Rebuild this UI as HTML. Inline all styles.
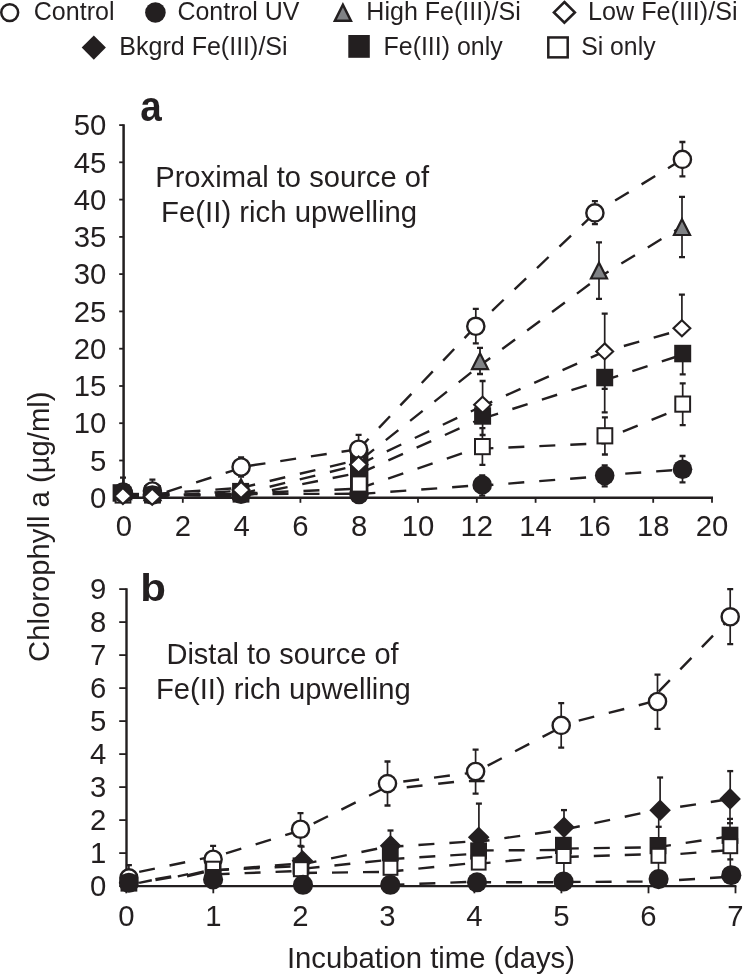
<!DOCTYPE html>
<html><head><meta charset="utf-8"><title>Chlorophyll a incubation</title>
<style>html,body{margin:0;padding:0;background:#fff}svg{display:block}text{font-family:"Liberation Sans",Arial,Helvetica,sans-serif;fill:#231f20}</style></head><body>
<svg width="743" height="975" viewBox="0 0 743 975">
<rect width="743" height="975" fill="#fff"/>
<circle cx="9.7" cy="12.6" r="8.45" fill="#fff" stroke="#231f20" stroke-width="2.50"/>
<text x="33.77" y="20.10" font-size="25.50" textLength="80.70" lengthAdjust="spacingAndGlyphs">Control</text>
<circle cx="155.4" cy="12.5" r="10.30" fill="#231f20"/>
<text x="177.48" y="20.10" font-size="25.50" textLength="122.03" lengthAdjust="spacingAndGlyphs">Control UV</text>
<path d="M342.9 4.8L350.9 20.8L334.9 20.8Z" fill="#808285" stroke="#231f20" stroke-width="2.5"/>
<text x="366.34" y="20.10" font-size="25.50" textLength="154.38" lengthAdjust="spacingAndGlyphs">High Fe(III)/Si</text>
<path d="M564.40 2.04L574.86 12.40L564.40 22.76L553.94 12.40Z" fill="#fff" stroke="#231f20" stroke-width="2.60"/>
<text x="588.03" y="20.10" font-size="25.50" textLength="149.58" lengthAdjust="spacingAndGlyphs">Low Fe(III)/Si</text>
<path d="M93.80 35.50L105.90 47.60L93.80 59.70L81.70 47.60Z" fill="#231f20"/>
<text x="119.34" y="54.80" font-size="25.50" textLength="168.25" lengthAdjust="spacingAndGlyphs">Bkgrd Fe(III)/Si</text>
<rect x="348.3" y="35.0" width="21.5" height="22.8" fill="#231f20"/>
<text x="383.54" y="54.80" font-size="25.50" textLength="119.17" lengthAdjust="spacingAndGlyphs">Fe(III) only</text>
<rect x="548.30" y="37.45" width="19.40" height="19.90" fill="#fff" stroke="#231f20" stroke-width="2.50"/>
<text x="581.19" y="54.80" font-size="25.50" textLength="74.35" lengthAdjust="spacingAndGlyphs">Si only</text>
<path d="M123.6 124.3V497.8H713.0" fill="none" stroke="#231f20" stroke-width="2.5"/>
<line x1="119.2" x2="123.6" y1="497.8" y2="497.8" stroke="#231f20" stroke-width="1.8"/>
<text x="106.4" y="508.0" font-size="29.3" text-anchor="end">0</text>
<line x1="119.2" x2="123.6" y1="460.5" y2="460.5" stroke="#231f20" stroke-width="1.8"/>
<text x="106.4" y="470.7" font-size="29.3" text-anchor="end">5</text>
<line x1="119.2" x2="123.6" y1="423.2" y2="423.2" stroke="#231f20" stroke-width="1.8"/>
<text x="106.4" y="433.4" font-size="29.3" text-anchor="end">10</text>
<line x1="119.2" x2="123.6" y1="386.0" y2="386.0" stroke="#231f20" stroke-width="1.8"/>
<text x="106.4" y="396.2" font-size="29.3" text-anchor="end">15</text>
<line x1="119.2" x2="123.6" y1="348.7" y2="348.7" stroke="#231f20" stroke-width="1.8"/>
<text x="106.4" y="358.9" font-size="29.3" text-anchor="end">20</text>
<line x1="119.2" x2="123.6" y1="311.4" y2="311.4" stroke="#231f20" stroke-width="1.8"/>
<text x="106.4" y="321.6" font-size="29.3" text-anchor="end">25</text>
<line x1="119.2" x2="123.6" y1="274.1" y2="274.1" stroke="#231f20" stroke-width="1.8"/>
<text x="106.4" y="284.3" font-size="29.3" text-anchor="end">30</text>
<line x1="119.2" x2="123.6" y1="236.9" y2="236.9" stroke="#231f20" stroke-width="1.8"/>
<text x="106.4" y="247.1" font-size="29.3" text-anchor="end">35</text>
<line x1="119.2" x2="123.6" y1="199.6" y2="199.6" stroke="#231f20" stroke-width="1.8"/>
<text x="106.4" y="209.8" font-size="29.3" text-anchor="end">40</text>
<line x1="119.2" x2="123.6" y1="162.3" y2="162.3" stroke="#231f20" stroke-width="1.8"/>
<text x="106.4" y="172.5" font-size="29.3" text-anchor="end">45</text>
<line x1="119.2" x2="123.6" y1="125.1" y2="125.1" stroke="#231f20" stroke-width="1.8"/>
<text x="106.4" y="135.2" font-size="29.3" text-anchor="end">50</text>
<line x1="124.0" x2="124.0" y1="497.8" y2="502.8" stroke="#231f20" stroke-width="1.8"/>
<text x="124.0" y="535.5" font-size="29.3" text-anchor="middle">0</text>
<line x1="182.8" x2="182.8" y1="497.8" y2="502.8" stroke="#231f20" stroke-width="1.8"/>
<text x="182.8" y="535.5" font-size="29.3" text-anchor="middle">2</text>
<line x1="241.6" x2="241.6" y1="497.8" y2="502.8" stroke="#231f20" stroke-width="1.8"/>
<text x="241.6" y="535.5" font-size="29.3" text-anchor="middle">4</text>
<line x1="300.4" x2="300.4" y1="497.8" y2="502.8" stroke="#231f20" stroke-width="1.8"/>
<text x="300.4" y="535.5" font-size="29.3" text-anchor="middle">6</text>
<line x1="359.2" x2="359.2" y1="497.8" y2="502.8" stroke="#231f20" stroke-width="1.8"/>
<text x="359.2" y="535.5" font-size="29.3" text-anchor="middle">8</text>
<line x1="418.0" x2="418.0" y1="497.8" y2="502.8" stroke="#231f20" stroke-width="1.8"/>
<text x="418.0" y="535.5" font-size="29.3" text-anchor="middle">10</text>
<line x1="476.8" x2="476.8" y1="497.8" y2="502.8" stroke="#231f20" stroke-width="1.8"/>
<text x="476.8" y="535.5" font-size="29.3" text-anchor="middle">12</text>
<line x1="535.6" x2="535.6" y1="497.8" y2="502.8" stroke="#231f20" stroke-width="1.8"/>
<text x="535.6" y="535.5" font-size="29.3" text-anchor="middle">14</text>
<line x1="594.4" x2="594.4" y1="497.8" y2="502.8" stroke="#231f20" stroke-width="1.8"/>
<text x="594.4" y="535.5" font-size="29.3" text-anchor="middle">16</text>
<line x1="653.2" x2="653.2" y1="497.8" y2="502.8" stroke="#231f20" stroke-width="1.8"/>
<text x="653.2" y="535.5" font-size="29.3" text-anchor="middle">18</text>
<line x1="712.0" x2="712.0" y1="497.8" y2="502.8" stroke="#231f20" stroke-width="1.8"/>
<text x="712.0" y="535.5" font-size="29.3" text-anchor="middle">20</text>
<text x="140.35" y="121.40" font-size="42.00" textLength="21.49" lengthAdjust="spacingAndGlyphs" font-weight="bold">a</text>
<text x="155.22" y="187.20" font-size="28.80" textLength="273.85" lengthAdjust="spacingAndGlyphs">Proximal to source of</text>
<text x="161.11" y="221.60" font-size="28.80" textLength="255.98" lengthAdjust="spacingAndGlyphs">Fe(II) rich upwelling</text>
<line x1="123.0" y1="495.0" x2="152.5" y2="495.0" stroke="#231f20" stroke-width="2.40" stroke-dasharray="16 15" stroke-dashoffset="0.0"/>
<line x1="152.5" y1="495.0" x2="241.0" y2="494.3" stroke="#231f20" stroke-width="2.40" stroke-dasharray="16 15" stroke-dashoffset="30.1"/>
<line x1="241.0" y1="494.0" x2="359.0" y2="493.8" stroke="#231f20" stroke-width="2.40" stroke-dasharray="16 15" stroke-dashoffset="30.5"/>
<line x1="359.0" y1="494.1" x2="482.5" y2="485.0" stroke="#231f20" stroke-width="2.40" stroke-dasharray="16 15" stroke-dashoffset="30.6"/>
<line x1="482.5" y1="485.6" x2="604.8" y2="476.0" stroke="#231f20" stroke-width="2.40" stroke-dasharray="16 15" stroke-dashoffset="5.1"/>
<line x1="604.8" y1="475.0" x2="682.4" y2="469.6" stroke="#231f20" stroke-width="2.40" stroke-dasharray="16 15" stroke-dashoffset="10.5"/>
<line x1="123.0" y1="495.0" x2="152.5" y2="495.0" stroke="#231f20" stroke-width="2.40" stroke-dasharray="16 15" stroke-dashoffset="0.0"/>
<line x1="152.5" y1="495.0" x2="241.0" y2="494.0" stroke="#231f20" stroke-width="2.40" stroke-dasharray="16 15" stroke-dashoffset="30.1"/>
<line x1="241.0" y1="493.5" x2="359.0" y2="488.7" stroke="#231f20" stroke-width="2.40" stroke-dasharray="16 15" stroke-dashoffset="30.5"/>
<line x1="358.8" y1="488.6" x2="483.1" y2="446.2" stroke="#231f20" stroke-width="2.40" stroke-dasharray="16 15" stroke-dashoffset="0.0"/>
<line x1="483.1" y1="448.6" x2="604.7" y2="443.2" stroke="#231f20" stroke-width="2.40" stroke-dasharray="16 15" stroke-dashoffset="5.7"/>
<line x1="604.7" y1="439.0" x2="682.5" y2="407.4" stroke="#231f20" stroke-width="2.40" stroke-dasharray="16 15" stroke-dashoffset="11.4"/>
<line x1="123.0" y1="494.0" x2="152.5" y2="495.0" stroke="#231f20" stroke-width="2.40" stroke-dasharray="16 15" stroke-dashoffset="0.0"/>
<line x1="152.5" y1="495.0" x2="241.0" y2="496.0" stroke="#231f20" stroke-width="2.40" stroke-dasharray="16 15" stroke-dashoffset="30.1"/>
<line x1="241.0" y1="496.5" x2="359.0" y2="472.7" stroke="#231f20" stroke-width="2.40" stroke-dasharray="16 15" stroke-dashoffset="30.5"/>
<line x1="359.0" y1="473.6" x2="483.1" y2="417.8" stroke="#231f20" stroke-width="2.40" stroke-dasharray="16 15" stroke-dashoffset="29.8"/>
<line x1="483.1" y1="418.3" x2="604.7" y2="379.6" stroke="#231f20" stroke-width="2.40" stroke-dasharray="16 15" stroke-dashoffset="0.3"/>
<line x1="604.7" y1="380.2" x2="682.5" y2="354.7" stroke="#231f20" stroke-width="2.40" stroke-dasharray="16 15" stroke-dashoffset="1.9"/>
<line x1="123.0" y1="494.0" x2="152.5" y2="494.0" stroke="#231f20" stroke-width="2.40" stroke-dasharray="16 15" stroke-dashoffset="0.0"/>
<line x1="152.5" y1="494.0" x2="241.0" y2="487.9" stroke="#231f20" stroke-width="2.40" stroke-dasharray="16 15" stroke-dashoffset="30.0"/>
<line x1="241.0" y1="487.9" x2="359.0" y2="459.6" stroke="#231f20" stroke-width="2.40" stroke-dasharray="16 15" stroke-dashoffset="1.5"/>
<line x1="359.0" y1="461.3" x2="480.0" y2="365.5" stroke="#231f20" stroke-width="2.40" stroke-dasharray="16 15" stroke-dashoffset="27.8"/>
<line x1="480.0" y1="365.5" x2="598.9" y2="277.3" stroke="#231f20" stroke-width="2.40" stroke-dasharray="16 15" stroke-dashoffset="3.3"/>
<line x1="598.9" y1="277.3" x2="682.0" y2="226.5" stroke="#231f20" stroke-width="2.40" stroke-dasharray="16 15" stroke-dashoffset="4.7"/>
<line x1="123.0" y1="494.0" x2="152.4" y2="496.0" stroke="#231f20" stroke-width="2.40" stroke-dasharray="16 15" stroke-dashoffset="0.0"/>
<line x1="152.4" y1="496.3" x2="241.1" y2="468.0" stroke="#231f20" stroke-width="2.40" stroke-dasharray="16 15" stroke-dashoffset="16.1"/>
<line x1="241.1" y1="467.0" x2="358.6" y2="449.2" stroke="#231f20" stroke-width="2.40" stroke-dasharray="16 15" stroke-dashoffset="22.4"/>
<line x1="358.6" y1="449.2" x2="475.8" y2="326.3" stroke="#231f20" stroke-width="2.40" stroke-dasharray="16 15" stroke-dashoffset="1.5"/>
<line x1="475.8" y1="326.3" x2="594.9" y2="212.9" stroke="#231f20" stroke-width="2.40" stroke-dasharray="16 15" stroke-dashoffset="8.5"/>
<line x1="594.9" y1="212.9" x2="682.4" y2="159.4" stroke="#231f20" stroke-width="2.40" stroke-dasharray="16 15" stroke-dashoffset="7.3"/>
<line x1="123.0" y1="496.0" x2="152.2" y2="496.8" stroke="#231f20" stroke-width="2.40" stroke-dasharray="16 15" stroke-dashoffset="0.0"/>
<line x1="152.2" y1="496.8" x2="241.0" y2="490.6" stroke="#231f20" stroke-width="2.40" stroke-dasharray="16 15" stroke-dashoffset="30.5"/>
<line x1="241.0" y1="493.8" x2="359.0" y2="464.8" stroke="#231f20" stroke-width="2.40" stroke-dasharray="16 15" stroke-dashoffset="1.5"/>
<line x1="358.8" y1="464.6" x2="483.0" y2="405.7" stroke="#231f20" stroke-width="2.40" stroke-dasharray="16 15" stroke-dashoffset="0.0"/>
<line x1="483.0" y1="405.7" x2="604.6" y2="351.4" stroke="#231f20" stroke-width="2.40" stroke-dasharray="16 15" stroke-dashoffset="5.9"/>
<line x1="604.6" y1="351.4" x2="682.0" y2="329.6" stroke="#231f20" stroke-width="2.40" stroke-dasharray="16 15" stroke-dashoffset="11.0"/>
<path d="M482.2 475.0V496.0" fill="none" stroke="#231f20" stroke-width="1.70"/>
<path d="M479.2 475.3H485.2M479.2 495.7H485.2" fill="none" stroke="#231f20" stroke-width="2.30"/>
<path d="M604.7 465.0V486.6" fill="none" stroke="#231f20" stroke-width="1.70"/>
<path d="M601.7 465.3H607.7M601.7 486.3H607.7" fill="none" stroke="#231f20" stroke-width="2.30"/>
<path d="M682.5 455.7V482.7" fill="none" stroke="#231f20" stroke-width="1.70"/>
<path d="M679.5 456.0H685.5M679.5 482.4H685.5" fill="none" stroke="#231f20" stroke-width="2.30"/>
<path d="M482.4 427.8V465.2" fill="none" stroke="#231f20" stroke-width="1.70"/>
<path d="M479.4 428.1H485.4M479.4 464.9H485.4" fill="none" stroke="#231f20" stroke-width="2.30"/>
<path d="M604.9 417.1V454.8" fill="none" stroke="#231f20" stroke-width="1.70"/>
<path d="M601.9 417.4H607.9M601.9 454.5H607.9" fill="none" stroke="#231f20" stroke-width="2.30"/>
<path d="M682.7 383.1V425.5" fill="none" stroke="#231f20" stroke-width="1.70"/>
<path d="M679.7 383.4H685.7M679.7 425.2H685.7" fill="none" stroke="#231f20" stroke-width="2.30"/>
<path d="M482.6 416.0V435.3" fill="none" stroke="#231f20" stroke-width="1.70"/>
<path d="M479.6 416.3H485.6M479.6 435.0H485.6" fill="none" stroke="#231f20" stroke-width="2.30"/>
<path d="M604.7 377.5V412.6" fill="none" stroke="#231f20" stroke-width="1.70"/>
<path d="M601.7 377.8H607.7M601.7 412.3H607.7" fill="none" stroke="#231f20" stroke-width="2.30"/>
<path d="M682.7 353.5V374.6" fill="none" stroke="#231f20" stroke-width="1.70"/>
<path d="M679.7 353.8H685.7M679.7 374.3H685.7" fill="none" stroke="#231f20" stroke-width="2.30"/>
<path d="M480.0 347.6V374.3" fill="none" stroke="#231f20" stroke-width="1.70"/>
<path d="M477.0 347.9H483.0M477.0 374.0H483.0" fill="none" stroke="#231f20" stroke-width="2.30"/>
<path d="M599.0 242.0V299.1" fill="none" stroke="#231f20" stroke-width="1.70"/>
<path d="M596.0 242.3H602.0M596.0 298.8H602.0" fill="none" stroke="#231f20" stroke-width="2.30"/>
<path d="M682.0 196.4V257.4" fill="none" stroke="#231f20" stroke-width="1.70"/>
<path d="M679.0 196.8H685.0M679.0 257.1H685.0" fill="none" stroke="#231f20" stroke-width="2.30"/>
<path d="M123.0 477.3V498.0" fill="none" stroke="#231f20" stroke-width="1.70"/>
<path d="M120.0 477.6H126.0M120.0 497.7H126.0" fill="none" stroke="#231f20" stroke-width="2.30"/>
<path d="M152.4 479.3V498.0" fill="none" stroke="#231f20" stroke-width="1.70"/>
<path d="M149.4 479.6H155.4M149.4 497.7H155.4" fill="none" stroke="#231f20" stroke-width="2.30"/>
<path d="M241.1 457.1V477.0" fill="none" stroke="#231f20" stroke-width="1.70"/>
<path d="M238.1 457.4H244.1M238.1 476.7H244.1" fill="none" stroke="#231f20" stroke-width="2.30"/>
<path d="M358.6 434.6V461.5" fill="none" stroke="#231f20" stroke-width="1.70"/>
<path d="M355.6 434.9H361.6M355.6 461.2H361.6" fill="none" stroke="#231f20" stroke-width="2.30"/>
<path d="M475.8 308.5V343.7" fill="none" stroke="#231f20" stroke-width="1.70"/>
<path d="M472.8 308.8H478.8M472.8 343.4H478.8" fill="none" stroke="#231f20" stroke-width="2.30"/>
<path d="M594.9 200.8V224.4" fill="none" stroke="#231f20" stroke-width="1.70"/>
<path d="M591.9 201.2H597.9M591.9 224.1H597.9" fill="none" stroke="#231f20" stroke-width="2.30"/>
<path d="M682.4 141.7V176.7" fill="none" stroke="#231f20" stroke-width="1.70"/>
<path d="M679.4 142.0H685.4M679.4 176.3H685.4" fill="none" stroke="#231f20" stroke-width="2.30"/>
<path d="M482.6 380.7V404.0" fill="none" stroke="#231f20" stroke-width="1.70"/>
<path d="M479.6 381.0H485.6M479.6 403.7H485.6" fill="none" stroke="#231f20" stroke-width="2.30"/>
<path d="M604.7 313.4V389.2" fill="none" stroke="#231f20" stroke-width="1.70"/>
<path d="M601.7 313.7H607.7M601.7 388.9H607.7" fill="none" stroke="#231f20" stroke-width="2.30"/>
<path d="M681.9 294.3V328.0" fill="none" stroke="#231f20" stroke-width="1.70"/>
<path d="M678.9 294.6H684.9M678.9 327.7H684.9" fill="none" stroke="#231f20" stroke-width="2.30"/>
<rect x="350" y="449.4" width="18.4" height="42" fill="#231f20"/>
<path d="M123.00 483.26L131.03 499.10L114.97 499.10Z" fill="#808285" stroke="#231f20" stroke-width="2.20" stroke-linejoin="miter"/>
<rect x="112.6" y="484.2" width="17.0" height="17.5" fill="#231f20"/>
<circle cx="123.0" cy="492.0" r="8.60" fill="#fff" stroke="#231f20" stroke-width="2.40"/>
<rect x="115.60" y="487.40" width="14.80" height="15.20" fill="#fff" stroke="#231f20" stroke-width="2.00"/>
<circle cx="123.5" cy="493.5" r="9.80" fill="#231f20"/>
<path d="M122.90 488.08L131.32 496.10L122.90 504.12L114.48 496.10Z" fill="#fff" stroke="#231f20" stroke-width="2.10"/>
<path d="M152.50 484.26L160.53 500.10L144.47 500.10Z" fill="#808285" stroke="#231f20" stroke-width="2.20" stroke-linejoin="miter"/>
<rect x="144.0" y="485.2" width="17.0" height="17.5" fill="#231f20"/>
<circle cx="152.4" cy="491.0" r="8.60" fill="#fff" stroke="#231f20" stroke-width="2.40"/>
<rect x="145.10" y="487.40" width="14.80" height="15.20" fill="#fff" stroke="#231f20" stroke-width="2.00"/>
<circle cx="152.3" cy="495.0" r="9.80" fill="#231f20"/>
<path d="M152.20 488.78L160.62 496.80L152.20 504.82L143.78 496.80Z" fill="#fff" stroke="#231f20" stroke-width="2.10"/>
<path d="M241.00 479.26L249.03 495.10L232.97 495.10Z" fill="#808285" stroke="#231f20" stroke-width="2.20" stroke-linejoin="miter"/>
<rect x="232.1" y="482.9" width="17.0" height="17.5" fill="#231f20"/>
<circle cx="241.1" cy="467.0" r="8.60" fill="#fff" stroke="#231f20" stroke-width="2.40"/>
<rect x="233.60" y="486.40" width="14.80" height="15.20" fill="#fff" stroke="#231f20" stroke-width="2.00"/>
<circle cx="241.0" cy="494.2" r="9.80" fill="#231f20"/>
<path d="M241.10 481.98L249.52 490.00L241.10 498.02L232.68 490.00Z" fill="#fff" stroke="#231f20" stroke-width="2.10"/>
<path d="M359.00 448.26L367.03 464.10L350.97 464.10Z" fill="#808285" stroke="#231f20" stroke-width="2.20" stroke-linejoin="miter"/>
<rect x="350.7" y="459.2" width="17.0" height="17.5" fill="#231f20"/>
<circle cx="358.6" cy="449.2" r="8.60" fill="#fff" stroke="#231f20" stroke-width="2.40"/>
<circle cx="359.0" cy="494.5" r="9.80" fill="#231f20"/>
<rect x="351.90" y="476.40" width="14.80" height="15.20" fill="#fff" stroke="#231f20" stroke-width="2.00"/>
<path d="M358.60 456.48L367.02 464.50L358.60 472.52L350.18 464.50Z" fill="#fff" stroke="#231f20" stroke-width="2.10"/>
<path d="M480.00 353.26L488.03 369.10L471.97 369.10Z" fill="#808285" stroke="#231f20" stroke-width="2.20" stroke-linejoin="miter"/>
<rect x="474.1" y="407.2" width="17.0" height="17.5" fill="#231f20"/>
<circle cx="475.8" cy="326.3" r="8.60" fill="#fff" stroke="#231f20" stroke-width="2.40"/>
<circle cx="482.2" cy="484.9" r="9.80" fill="#231f20"/>
<rect x="475.00" y="439.00" width="14.80" height="15.20" fill="#fff" stroke="#231f20" stroke-width="2.00"/>
<path d="M482.60 396.78L491.02 404.80L482.60 412.82L474.18 404.80Z" fill="#fff" stroke="#231f20" stroke-width="2.10"/>
<path d="M599.00 262.66L607.03 278.50L590.97 278.50Z" fill="#808285" stroke="#231f20" stroke-width="2.20" stroke-linejoin="miter"/>
<rect x="596.2" y="368.8" width="17.0" height="17.5" fill="#231f20"/>
<circle cx="594.9" cy="212.9" r="8.60" fill="#fff" stroke="#231f20" stroke-width="2.40"/>
<circle cx="604.7" cy="475.6" r="9.80" fill="#231f20"/>
<rect x="597.50" y="428.20" width="14.80" height="15.20" fill="#fff" stroke="#231f20" stroke-width="2.00"/>
<path d="M604.70 343.38L613.12 351.40L604.70 359.42L596.28 351.40Z" fill="#fff" stroke="#231f20" stroke-width="2.10"/>
<path d="M682.00 219.16L690.03 235.00L673.97 235.00Z" fill="#808285" stroke="#231f20" stroke-width="2.20" stroke-linejoin="miter"/>
<rect x="674.2" y="344.8" width="17.0" height="17.5" fill="#231f20"/>
<circle cx="682.4" cy="159.4" r="8.60" fill="#fff" stroke="#231f20" stroke-width="2.40"/>
<circle cx="682.5" cy="469.3" r="9.80" fill="#231f20"/>
<rect x="675.30" y="396.50" width="14.80" height="15.20" fill="#fff" stroke="#231f20" stroke-width="2.00"/>
<path d="M681.90 320.18L690.32 328.20L681.90 336.22L673.48 328.20Z" fill="#fff" stroke="#231f20" stroke-width="2.10"/>
<path d="M126.5 588.2V886.1H736.4" fill="none" stroke="#231f20" stroke-width="2.4"/>
<line x1="119.2" x2="126.5" y1="886.1" y2="886.1" stroke="#231f20" stroke-width="1.8"/>
<text x="106.4" y="896.3" font-size="29.3" text-anchor="end">0</text>
<line x1="119.2" x2="126.5" y1="853.1" y2="853.1" stroke="#231f20" stroke-width="1.8"/>
<text x="106.4" y="863.3" font-size="29.3" text-anchor="end">1</text>
<line x1="119.2" x2="126.5" y1="820.1" y2="820.1" stroke="#231f20" stroke-width="1.8"/>
<text x="106.4" y="830.3" font-size="29.3" text-anchor="end">2</text>
<line x1="119.2" x2="126.5" y1="787.1" y2="787.1" stroke="#231f20" stroke-width="1.8"/>
<text x="106.4" y="797.3" font-size="29.3" text-anchor="end">3</text>
<line x1="119.2" x2="126.5" y1="754.1" y2="754.1" stroke="#231f20" stroke-width="1.8"/>
<text x="106.4" y="764.3" font-size="29.3" text-anchor="end">4</text>
<line x1="119.2" x2="126.5" y1="721.1" y2="721.1" stroke="#231f20" stroke-width="1.8"/>
<text x="106.4" y="731.3" font-size="29.3" text-anchor="end">5</text>
<line x1="119.2" x2="126.5" y1="688.1" y2="688.1" stroke="#231f20" stroke-width="1.8"/>
<text x="106.4" y="698.3" font-size="29.3" text-anchor="end">6</text>
<line x1="119.2" x2="126.5" y1="655.1" y2="655.1" stroke="#231f20" stroke-width="1.8"/>
<text x="106.4" y="665.3" font-size="29.3" text-anchor="end">7</text>
<line x1="119.2" x2="126.5" y1="622.1" y2="622.1" stroke="#231f20" stroke-width="1.8"/>
<text x="106.4" y="632.3" font-size="29.3" text-anchor="end">8</text>
<line x1="119.2" x2="126.5" y1="589.1" y2="589.1" stroke="#231f20" stroke-width="1.8"/>
<text x="106.4" y="599.3" font-size="29.3" text-anchor="end">9</text>
<line x1="126.3" x2="126.3" y1="886.1" y2="893.3" stroke="#231f20" stroke-width="1.8"/>
<text x="126.3" y="926.2" font-size="29.3" text-anchor="middle">0</text>
<line x1="213.3" x2="213.3" y1="886.1" y2="893.3" stroke="#231f20" stroke-width="1.8"/>
<text x="213.3" y="926.2" font-size="29.3" text-anchor="middle">1</text>
<line x1="300.4" x2="300.4" y1="886.1" y2="893.3" stroke="#231f20" stroke-width="1.8"/>
<text x="300.4" y="926.2" font-size="29.3" text-anchor="middle">2</text>
<line x1="387.4" x2="387.4" y1="886.1" y2="893.3" stroke="#231f20" stroke-width="1.8"/>
<text x="387.4" y="926.2" font-size="29.3" text-anchor="middle">3</text>
<line x1="474.4" x2="474.4" y1="886.1" y2="893.3" stroke="#231f20" stroke-width="1.8"/>
<text x="474.4" y="926.2" font-size="29.3" text-anchor="middle">4</text>
<line x1="561.4" x2="561.4" y1="886.1" y2="893.3" stroke="#231f20" stroke-width="1.8"/>
<text x="561.4" y="926.2" font-size="29.3" text-anchor="middle">5</text>
<line x1="648.5" x2="648.5" y1="886.1" y2="893.3" stroke="#231f20" stroke-width="1.8"/>
<text x="648.5" y="926.2" font-size="29.3" text-anchor="middle">6</text>
<line x1="735.5" x2="735.5" y1="886.1" y2="893.3" stroke="#231f20" stroke-width="1.8"/>
<text x="735.5" y="926.2" font-size="29.3" text-anchor="middle">7</text>
<text x="140.34" y="601.40" font-size="39.50" textLength="25.70" lengthAdjust="spacingAndGlyphs" font-weight="bold">b</text>
<text x="166.43" y="664.30" font-size="28.80" textLength="232.24" lengthAdjust="spacingAndGlyphs">Distal to source of</text>
<text x="155.92" y="699.30" font-size="28.80" textLength="254.97" lengthAdjust="spacingAndGlyphs">Fe(II) rich upwelling</text>
<text x="286.90" y="968.40" font-size="28.80" textLength="288.13" lengthAdjust="spacingAndGlyphs">Incubation time (days)</text>
<text transform="translate(48.80 660.40) rotate(-90)" x="-1.52" y="0" font-size="28.80" textLength="270.40" lengthAdjust="spacingAndGlyphs">Chlorophyll a (µg/ml)</text>
<line x1="139.1" y1="882.9" x2="151.8" y2="880.3" stroke="#231f20" stroke-width="2.40"/>
<line x1="155.4" y1="879.7" x2="171.2" y2="876.9" stroke="#231f20" stroke-width="3.40"/>
<line x1="177.8" y1="876.4" x2="188.1" y2="874.2" stroke="#231f20" stroke-width="2.40"/>
<line x1="186.9" y1="875.9" x2="203.9" y2="871.9" stroke="#231f20" stroke-width="3.20"/>
<line x1="128.9" y1="874.0" x2="213.2" y2="856.4" stroke="#231f20" stroke-width="2.40" stroke-dasharray="16 15" stroke-dashoffset="20.5"/>
<line x1="213.1" y1="857.4" x2="300.5" y2="830.5" stroke="#231f20" stroke-width="2.40" stroke-dasharray="16 15" stroke-dashoffset="17.5"/>
<line x1="300.5" y1="830.0" x2="387.5" y2="786.5" stroke="#231f20" stroke-width="2.40" stroke-dasharray="16 15" stroke-dashoffset="16.3"/>
<line x1="387.4" y1="783.6" x2="475.6" y2="772.2" stroke="#231f20" stroke-width="2.40" stroke-dasharray="16 15" stroke-dashoffset="15.0"/>
<line x1="475.6" y1="772.0" x2="561.2" y2="727.1" stroke="#231f20" stroke-width="2.40" stroke-dasharray="16 15" stroke-dashoffset="17.4"/>
<line x1="561.2" y1="725.2" x2="648.6" y2="702.7" stroke="#231f20" stroke-width="2.40" stroke-dasharray="16 15" stroke-dashoffset="12.9"/>
<line x1="648.6" y1="702.0" x2="735.5" y2="612.5" stroke="#231f20" stroke-width="2.40" stroke-dasharray="16 15" stroke-dashoffset="16.5"/>
<line x1="213.1" y1="870.6" x2="302.0" y2="863.2" stroke="#231f20" stroke-width="2.40" stroke-dasharray="16 15" stroke-dashoffset="0.0"/>
<line x1="302.5" y1="864.3" x2="390.5" y2="846.0" stroke="#231f20" stroke-width="2.40" stroke-dasharray="16 15" stroke-dashoffset="1.8"/>
<line x1="390.6" y1="846.8" x2="478.8" y2="841.0" stroke="#231f20" stroke-width="2.40" stroke-dasharray="16 15" stroke-dashoffset="3.1"/>
<line x1="478.6" y1="841.8" x2="564.1" y2="829.6" stroke="#231f20" stroke-width="2.40" stroke-dasharray="16 15" stroke-dashoffset="5.0"/>
<line x1="563.7" y1="829.7" x2="660.0" y2="809.2" stroke="#231f20" stroke-width="2.40" stroke-dasharray="16 15" stroke-dashoffset="30.6"/>
<line x1="660.1" y1="809.9" x2="730.1" y2="799.0" stroke="#231f20" stroke-width="2.40" stroke-dasharray="16 15" stroke-dashoffset="10.7"/>
<line x1="213.1" y1="870.2" x2="301.0" y2="866.0" stroke="#231f20" stroke-width="2.40" stroke-dasharray="16 15" stroke-dashoffset="0.4"/>
<line x1="301.0" y1="868.9" x2="390.0" y2="859.7" stroke="#231f20" stroke-width="2.40" stroke-dasharray="16 15" stroke-dashoffset="28.4"/>
<line x1="390.6" y1="859.1" x2="478.7" y2="853.6" stroke="#231f20" stroke-width="2.40" stroke-dasharray="16 15" stroke-dashoffset="2.2"/>
<line x1="478.2" y1="850.5" x2="563.8" y2="850.0" stroke="#231f20" stroke-width="2.40" stroke-dasharray="16 15" stroke-dashoffset="0.5"/>
<line x1="563.8" y1="848.6" x2="658.7" y2="847.2" stroke="#231f20" stroke-width="2.40" stroke-dasharray="16 15" stroke-dashoffset="1.0"/>
<line x1="658.7" y1="847.0" x2="729.8" y2="836.3" stroke="#231f20" stroke-width="2.40" stroke-dasharray="16 15" stroke-dashoffset="3.7"/>
<line x1="213.1" y1="874.4" x2="301.0" y2="870.9" stroke="#231f20" stroke-width="2.40" stroke-dasharray="16 15" stroke-dashoffset="30.5"/>
<line x1="301.0" y1="873.0" x2="390.0" y2="871.8" stroke="#231f20" stroke-width="2.40" stroke-dasharray="16 15" stroke-dashoffset="0.0"/>
<line x1="390.6" y1="871.5" x2="478.7" y2="862.5" stroke="#231f20" stroke-width="2.40" stroke-dasharray="16 15" stroke-dashoffset="3.1"/>
<line x1="478.6" y1="863.8" x2="563.7" y2="855.8" stroke="#231f20" stroke-width="2.40" stroke-dasharray="16 15" stroke-dashoffset="4.0"/>
<line x1="563.8" y1="857.0" x2="658.5" y2="854.0" stroke="#231f20" stroke-width="2.40" stroke-dasharray="16 15" stroke-dashoffset="1.0"/>
<line x1="658.5" y1="855.6" x2="730.0" y2="850.0" stroke="#231f20" stroke-width="2.40" stroke-dasharray="16 15" stroke-dashoffset="9.0"/>
<line x1="390.0" y1="885.0" x2="477.1" y2="881.5" stroke="#231f20" stroke-width="2.40" stroke-dasharray="16 15" stroke-dashoffset="1.6"/>
<line x1="476.8" y1="882.2" x2="563.9" y2="882.2" stroke="#231f20" stroke-width="2.40" stroke-dasharray="16 15" stroke-dashoffset="1.7"/>
<line x1="563.3" y1="882.0" x2="658.8" y2="881.5" stroke="#231f20" stroke-width="2.40" stroke-dasharray="16 15" stroke-dashoffset="29.7"/>
<line x1="658.5" y1="881.2" x2="731.3" y2="876.7" stroke="#231f20" stroke-width="2.40" stroke-dasharray="16 15" stroke-dashoffset="10.4"/>
<path d="M128.9 864.9V890.0" fill="none" stroke="#231f20" stroke-width="1.70"/>
<path d="M125.9 865.2H131.9M125.9 889.6H131.9" fill="none" stroke="#231f20" stroke-width="2.30"/>
<path d="M213.1 845.5V872.0" fill="none" stroke="#231f20" stroke-width="1.70"/>
<path d="M210.1 845.9H216.1M210.1 871.6H216.1" fill="none" stroke="#231f20" stroke-width="2.30"/>
<path d="M300.5 812.7V846.2" fill="none" stroke="#231f20" stroke-width="1.70"/>
<path d="M297.5 813.1H303.5M297.5 845.9H303.5" fill="none" stroke="#231f20" stroke-width="2.30"/>
<path d="M387.5 761.1V805.9" fill="none" stroke="#231f20" stroke-width="1.70"/>
<path d="M384.5 761.5H390.5M384.5 805.5H390.5" fill="none" stroke="#231f20" stroke-width="2.30"/>
<path d="M475.6 749.2V794.0" fill="none" stroke="#231f20" stroke-width="1.70"/>
<path d="M472.6 749.6H478.6M472.6 793.6H478.6" fill="none" stroke="#231f20" stroke-width="2.30"/>
<path d="M561.2 702.9V748.0" fill="none" stroke="#231f20" stroke-width="1.70"/>
<path d="M558.2 703.2H564.2M558.2 747.6H564.2" fill="none" stroke="#231f20" stroke-width="2.30"/>
<path d="M657.5 674.2V729.2" fill="none" stroke="#231f20" stroke-width="1.70"/>
<path d="M654.5 674.6H660.5M654.5 728.9H660.5" fill="none" stroke="#231f20" stroke-width="2.30"/>
<path d="M730.2 588.9V644.6" fill="none" stroke="#231f20" stroke-width="1.70"/>
<path d="M727.2 589.2H733.2M727.2 644.2H733.2" fill="none" stroke="#231f20" stroke-width="2.30"/>
<path d="M301.6 846.2V852.0" fill="none" stroke="#231f20" stroke-width="1.70"/>
<path d="M298.6 846.6H304.6" fill="none" stroke="#231f20" stroke-width="2.30"/>
<path d="M390.5 830.1V846.0" fill="none" stroke="#231f20" stroke-width="1.70"/>
<path d="M387.5 830.5H393.5" fill="none" stroke="#231f20" stroke-width="2.30"/>
<path d="M478.9 803.2V838.0" fill="none" stroke="#231f20" stroke-width="1.70"/>
<path d="M475.9 803.6H481.9" fill="none" stroke="#231f20" stroke-width="2.30"/>
<path d="M564.0 809.7V828.0" fill="none" stroke="#231f20" stroke-width="1.70"/>
<path d="M561.0 810.1H567.0" fill="none" stroke="#231f20" stroke-width="2.30"/>
<path d="M660.1 777.1V811.0" fill="none" stroke="#231f20" stroke-width="1.70"/>
<path d="M657.1 777.5H663.1" fill="none" stroke="#231f20" stroke-width="2.30"/>
<path d="M730.2 770.8V799.0" fill="none" stroke="#231f20" stroke-width="1.70"/>
<path d="M727.2 771.1H733.2" fill="none" stroke="#231f20" stroke-width="2.30"/>
<path d="M658.7 815V846M730 805V836M563.9 862V874M658.5 862V871M730.3 852V868" fill="none" stroke="#231f20" stroke-width="1.6"/>
<path d="M655.7 826.8H661.7" fill="none" stroke="#231f20" stroke-width="2.30"/>
<path d="M727.0 818.9H733.0" fill="none" stroke="#231f20" stroke-width="2.30"/>
<path d="M727.0 823.2H733.0" fill="none" stroke="#231f20" stroke-width="2.30"/>
<path d="M727.3 859.4H733.3" fill="none" stroke="#231f20" stroke-width="2.30"/>
<circle cx="128.9" cy="877.9" r="8.60" fill="#fff" stroke="#231f20" stroke-width="2.40"/>
<circle cx="213.1" cy="859.2" r="8.60" fill="#fff" stroke="#231f20" stroke-width="2.40"/>
<circle cx="300.5" cy="829.2" r="8.60" fill="#fff" stroke="#231f20" stroke-width="2.40"/>
<circle cx="387.5" cy="783.6" r="8.60" fill="#fff" stroke="#231f20" stroke-width="2.40"/>
<circle cx="475.6" cy="771.5" r="8.60" fill="#fff" stroke="#231f20" stroke-width="2.40"/>
<circle cx="561.2" cy="725.4" r="8.60" fill="#fff" stroke="#231f20" stroke-width="2.40"/>
<circle cx="657.5" cy="701.5" r="8.60" fill="#fff" stroke="#231f20" stroke-width="2.40"/>
<circle cx="730.2" cy="616.8" r="8.60" fill="#fff" stroke="#231f20" stroke-width="2.40"/>
<rect x="120.5" y="874.4" width="16.8" height="17.2" fill="#231f20"/>
<rect x="122.00" y="876.00" width="13.80" height="14.00" fill="#fff" stroke="#231f20" stroke-width="2.00"/>
<circle cx="128.9" cy="882.8" r="10.05" fill="#231f20"/>
<rect x="204.7" y="861.4" width="16.8" height="17.2" fill="#231f20"/>
<rect x="206.20" y="861.70" width="13.80" height="14.00" fill="#fff" stroke="#231f20" stroke-width="2.00"/>
<circle cx="213.1" cy="879.4" r="10.05" fill="#231f20"/>
<path d="M302.40 850.00L313.20 860.80L302.40 871.60L291.60 860.80Z" fill="#231f20"/>
<rect x="292.6" y="857.4" width="16.8" height="17.2" fill="#231f20"/>
<rect x="293.90" y="862.20" width="13.80" height="14.00" fill="#fff" stroke="#231f20" stroke-width="2.00"/>
<circle cx="303.0" cy="884.8" r="10.05" fill="#231f20"/>
<path d="M390.60 835.00L401.40 845.80L390.60 856.60L379.80 845.80Z" fill="#231f20"/>
<rect x="381.9" y="844.1" width="16.8" height="17.2" fill="#231f20"/>
<rect x="383.60" y="860.80" width="13.80" height="14.00" fill="#fff" stroke="#231f20" stroke-width="2.00"/>
<circle cx="390.3" cy="884.8" r="10.05" fill="#231f20"/>
<path d="M478.70 826.40L489.50 837.20L478.70 848.00L467.90 837.20Z" fill="#231f20"/>
<rect x="470.2" y="842.4" width="16.8" height="17.2" fill="#231f20"/>
<rect x="471.80" y="855.60" width="13.80" height="14.00" fill="#fff" stroke="#231f20" stroke-width="2.00"/>
<circle cx="477.0" cy="882.3" r="10.05" fill="#231f20"/>
<path d="M564.00 816.40L574.80 827.20L564.00 838.00L553.20 827.20Z" fill="#231f20"/>
<rect x="555.0" y="836.8" width="16.8" height="17.2" fill="#231f20"/>
<rect x="556.70" y="849.00" width="13.80" height="14.00" fill="#fff" stroke="#231f20" stroke-width="2.00"/>
<circle cx="563.6" cy="881.5" r="10.05" fill="#231f20"/>
<path d="M660.10 799.40L670.90 810.20L660.10 821.00L649.30 810.20Z" fill="#231f20"/>
<rect x="649.6" y="837.0" width="16.8" height="17.2" fill="#231f20"/>
<rect x="651.50" y="848.80" width="13.80" height="14.00" fill="#fff" stroke="#231f20" stroke-width="2.00"/>
<circle cx="658.6" cy="879.1" r="10.05" fill="#231f20"/>
<path d="M730.10 788.10L740.90 798.90L730.10 809.70L719.30 798.90Z" fill="#231f20"/>
<rect x="721.6" y="826.7" width="16.8" height="17.2" fill="#231f20"/>
<rect x="723.40" y="839.20" width="13.80" height="14.00" fill="#fff" stroke="#231f20" stroke-width="2.00"/>
<circle cx="731.3" cy="875.2" r="10.05" fill="#231f20"/>
<rect x="204.9" y="869" width="16.4" height="11" fill="#231f20"/>
<line x1="406.7" y1="787.2" x2="422.5" y2="785.5" stroke="#231f20" stroke-width="2.40"/>
<line x1="438.2" y1="783.7" x2="454.0" y2="782.0" stroke="#231f20" stroke-width="2.40"/>
<line x1="468.9" y1="781.1" x2="484.6" y2="781.1" stroke="#231f20" stroke-width="2.40"/>
</svg></body></html>
